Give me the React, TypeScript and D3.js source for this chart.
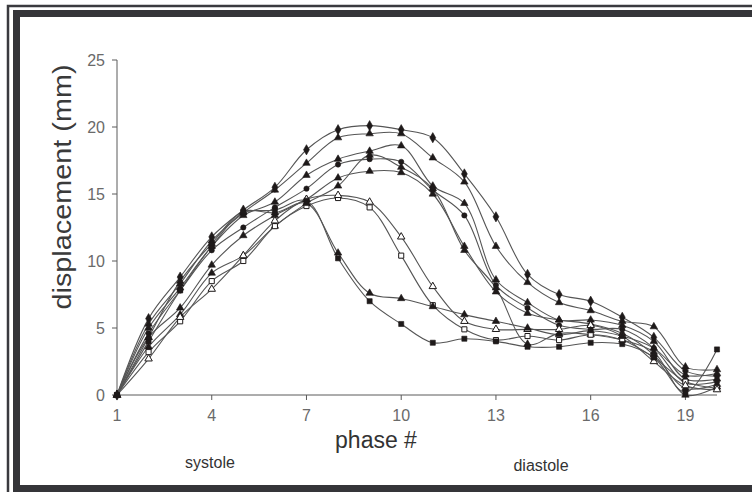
import React from "react";
import * as d3 from "d3";

const width = 752;
const height = 492;

// phase numbers on the x axis
const phases = [1, 2, 3, 4, 5, 6, 7, 8, 9, 10, 11, 12, 13, 14, 15, 16, 17, 18, 19, 20];
const xTicks = [1, 4, 7, 10, 13, 16, 19];
const yTicks = [0, 5, 10, 15, 20, 25];

// displacement (mm) for each marker
const s1 = [0, 5.7, 8.8, 11.8, 13.8, 15.5, 18.3, 19.8, 20.1, 19.8, 19.2, 16.5, 13.3, 9.0, 7.5, 7.0, 5.8, 4.3, 1.8, 1.4];
const s2 = [0, 5.3, 8.3, 11.5, 13.6, 15.3, 17.3, 19.2, 19.5, 19.5, 17.7, 15.9, 11.1, 8.4, 6.9, 6.3, 5.5, 5.1, 2.1, 1.9];
const s3 = [0, 5.0, 8.0, 11.1, 13.4, 14.4, 16.4, 17.6, 18.2, 18.6, 15.6, 14.3, 8.6, 6.9, 5.6, 5.6, 5.2, 4.0, 1.2, 1.2];
const s4 = [0, 4.6, 7.8, 10.8, 12.5, 14.0, 15.4, 17.2, 17.6, 17.4, 15.3, 13.4, 8.2, 6.5, 5.2, 4.9, 4.9, 3.5, 0.9, 1.0];
const s5 = [0, 4.3, 6.5, 9.7, 11.9, 13.4, 14.6, 16.2, 16.7, 16.6, 15.0, 11.1, 7.7, 6.1, 5.6, 5.3, 4.6, 3.0, 0.5, 0.8];
const s6 = [0, 3.6, 6.0, 9.1, 10.4, 12.6, 14.3, 15.6, 17.9, 17.0, 15.4, 10.8, 8.0, 3.8, 4.6, 4.5, 4.1, 3.2, 0.0, 0.6];
const s7 = [0, 3.2, 5.5, 8.5, 10.0, 12.6, 14.1, 14.7, 14.0, 10.4, 6.7, 4.9, 4.1, 4.4, 4.1, 4.5, 4.1, 2.8, 1.0, 0.5];
const s8 = [0, 2.7, 5.8, 7.9, 10.4, 13.0, 14.6, 14.9, 14.4, 11.8, 8.1, 5.5, 4.9, 4.9, 4.9, 5.2, 4.4, 2.5, 0.7, 0.4];
const s9 = [0, 4.0, 7.8, 11.1, 13.6, 13.8, 14.5, 10.2, 7.0, 5.3, 3.9, 4.2, 4.0, 3.6, 3.6, 3.9, 3.8, 2.8, 0.2, 3.4];
const s10 = [0, 4.3, 8.5, 11.3, 13.7, 13.6, 14.3, 10.6, 7.6, 7.2, 6.6, 6.0, 5.5, 5.0, 4.5, 4.8, 4.4, 3.5, 1.5, 1.6];

const seriesValues = [s1, s2, s3, s4, s5, s6, s7, s8, s9, s10];
const seriesMarkers = ["diamond", "triangle", "triangle", "circle", "triangle", "triangle", "openSquare", "openTriangle", "square", "triangle"];

const margin = { left: 117, right: 35, top: 60, bottom: 97 };

export default function App() {
  const x = d3.scaleLinear().domain([1, 20]).range([margin.left, width - margin.right]);
  const y = d3.scaleLinear().domain([0, 25]).range([height - margin.bottom, margin.top]);

  const line = d3
    .line<number>()
    .x((_, i) => x(phases[i]))
    .y((d) => y(d))
    .curve(d3.curveCatmullRom.alpha(0.5));

  const symbolFor = (m: string) => {
    if (m.includes("iamond")) return d3.symbol(d3.symbolDiamond, 30);
    if (m.includes("riangle")) return d3.symbol(d3.symbolTriangle, 24);
    if (m.includes("quare")) return d3.symbol(d3.symbolSquare, 26);
    return d3.symbol(d3.symbolCircle, 22);
  };

  const font = "'Liberation Sans', Arial, sans-serif";
  const y0 = y(0);

  return (
    <svg width={width} height={height} style={{ position: "absolute", left: 0, top: 0, background: "#fff", overflow: "hidden" }}>
      {/* picture frame */}
      <rect x={8} y={6} width={800} height={520} fill="none" stroke="#3a3a3e" strokeWidth={2.5} />
      <rect x={16.5} y={13.5} width={800} height={475} fill="none" stroke="#353539" strokeWidth={7} />

      {/* y axis */}
      <line x1={x(1)} x2={x(1)} y1={y(25)} y2={y0} stroke="#5a5a5a" />
      {yTicks.map((t) => (
        <g key={t}>
          <line x1={x(1) - 5} x2={x(1)} y1={y(t)} y2={y(t)} stroke="#5a5a5a" />
          <text x={x(1) - 12} y={y(t)} dy="0.35em" textAnchor="end" fontFamily={font} fontSize={16} fill="#6a6a6a">
            {t}
          </text>
        </g>
      ))}

      {/* x axis */}
      <line x1={x(1)} x2={x(20)} y1={y0} y2={y0} stroke="#5a5a5a" />
      {xTicks.map((t) => (
        <g key={t}>
          <line x1={x(t)} x2={x(t)} y1={y0} y2={y0 + 5} stroke="#5a5a5a" />
          <text x={x(t)} y={y0 + 20} dy="0.35em" textAnchor="middle" fontFamily={font} fontSize={16} fill="#6a6a6a">
            {t}
          </text>
        </g>
      ))}

      {/* curves */}
      {seriesValues.map((vals, k) => (
        <path key={k} d={line(vals) || ""} fill="none" stroke="#555" strokeWidth={1.1} />
      ))}

      {/* markers */}
      {seriesValues.map((vals, k) => {
        const m = seriesMarkers[k];
        const open = m.startsWith("open");
        const sym = symbolFor(m);
        return (
          <g key={k}>
            {vals.map((v, i) => (
              <path
                key={i}
                d={sym() || ""}
                transform={`translate(${x(phases[i])},${y(v)})`}
                fill={open ? "#fff" : "#1e1a1a"}
                stroke="#1e1a1a"
                strokeWidth={open ? 1 : 0.6}
              />
            ))}
          </g>
        );
      })}

      {/* axis titles */}
      <text
        transform={`translate(62,187) rotate(-90)`}
        textAnchor="middle"
        dy="0.35em"
        fontFamily={font}
        fontSize={25}
        textLength={245}
        lengthAdjust="spacingAndGlyphs"
        fill="#3a3a3a"
      >
        displacement (mm)
      </text>
      <text x={376} y={448} textAnchor="middle" fontFamily={font} fontSize={23} fill="#333">
        phase #
      </text>
      <text x={210} y={468} textAnchor="middle" fontFamily={font} fontSize={16} fill="#333">
        systole
      </text>
      <text x={541} y={471} textAnchor="middle" fontFamily={font} fontSize={16} fill="#333">
        diastole
      </text>
    </svg>
  );
}
